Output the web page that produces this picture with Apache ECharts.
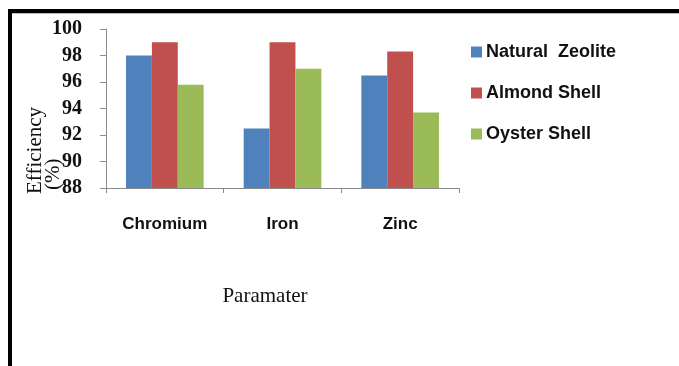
<!DOCTYPE html>
<html>
<head>
<meta charset="utf-8">
<script src="https://cdn.jsdelivr.net/npm/echarts@6/dist/echarts.min.js"></script>
<style>
  html, body { margin: 0; padding: 0; background: #ffffff; }
  #chart { width: 679px; height: 366px; }
</style>
</head>
<body>
<div id="chart"></div>
<script>
// Removal efficiency (%) per metal for three adsorbents
const categories = ['Chromium', 'Iron', 'Zinc'];
const naturalZeolite = [98.0, 92.5, 96.5];
const almondShell = [99.0, 99.0, 98.3];
const oysterShell = [95.8, 97.0, 93.7];
const seriesNames = ['Natural  Zeolite', 'Almond Shell', 'Oyster Shell'];
const yTicks = { min: 88, max: 100, step: 2 };

const colors = ['#4F81BD', '#C0504D', '#9BBB59'];
const axisGray = '#8c8c8c';

const chart = echarts.init(document.getElementById('chart'));

function barSeries(name, data, color) {
  return {
    name: name,
    type: 'bar',
    data: data,
    barGap: '0%',
    barCategoryGap: '34%',
    itemStyle: { color: color },
    emphasis: { disabled: true }
  };
}

chart.setOption({
  animation: false,
  backgroundColor: '#ffffff',
  grid: { left: 106, top: 29, width: 353, bottom: 178, containLabel: false },
  legend: {
    orient: 'vertical',
    left: 466,
    top: 38,
    itemWidth: 11,
    itemHeight: 11,
    itemGap: 23,
    icon: 'rect',
    data: seriesNames,
    textStyle: { fontFamily: 'Liberation Sans', fontWeight: 'bold', fontSize: 18, color: '#111', padding: [0, 0, 0, -1] }
  },
  xAxis: {
    type: 'category',
    data: categories,
    axisLine: { lineStyle: { color: axisGray, width: 1 } },
    axisTick: { show: true, length: 5, alignWithLabel: false, lineStyle: { color: axisGray } },
    axisLabel: {
      margin: 28,
      fontFamily: 'Liberation Sans',
      fontWeight: 'bold',
      fontSize: 17,
      color: '#111'
    },
    splitLine: { show: false }
  },
  yAxis: {
    type: 'value',
    min: yTicks.min,
    max: yTicks.max,
    interval: yTicks.step,
    axisLine: { show: true, lineStyle: { color: axisGray, width: 1 } },
    axisTick: { show: true, length: 6, lineStyle: { color: axisGray } },
    axisLabel: {
      margin: 24,
      fontFamily: 'Liberation Serif',
      fontWeight: 'bold',
      fontSize: 20,
      color: '#111'
    },
    splitLine: { show: false }
  },
  series: [
    barSeries(seriesNames[0], naturalZeolite, colors[0]),
    barSeries(seriesNames[1], almondShell, colors[1]),
    barSeries(seriesNames[2], oysterShell, colors[2])
  ],
  graphic: [
    // frame: heavy black rules along the top and left edges
    { type: 'rect', shape: { x: 8, y: 9, width: 671, height: 4 }, style: { fill: '#000' }, silent: true },
    { type: 'rect', shape: { x: 8, y: 9, width: 4, height: 357 }, style: { fill: '#000' }, silent: true },
    { type: 'rect', shape: { x: 12, y: 13, width: 667, height: 1 }, style: { fill: '#bbb' }, silent: true },
    // y-axis title, two rotated lines starting from the bottom
    {
      type: 'text', x: 35, y: 194, rotation: Math.PI / 2,
      style: { text: 'Efficiency', font: '21px "Liberation Serif"', fill: '#111', align: 'left', verticalAlign: 'middle' },
      silent: true
    },
    {
      type: 'text', x: 53, y: 190, rotation: Math.PI / 2,
      style: { text: '(%)', font: '21px "Liberation Serif"', fill: '#111', align: 'left', verticalAlign: 'middle' },
      silent: true
    },
    // x-axis title
    {
      type: 'text', x: 265, y: 296,
      style: { text: 'Paramater', font: '21px "Liberation Serif"', fill: '#111', align: 'center', verticalAlign: 'middle' },
      silent: true
    }
  ]
});
</script>
</body>
</html>
